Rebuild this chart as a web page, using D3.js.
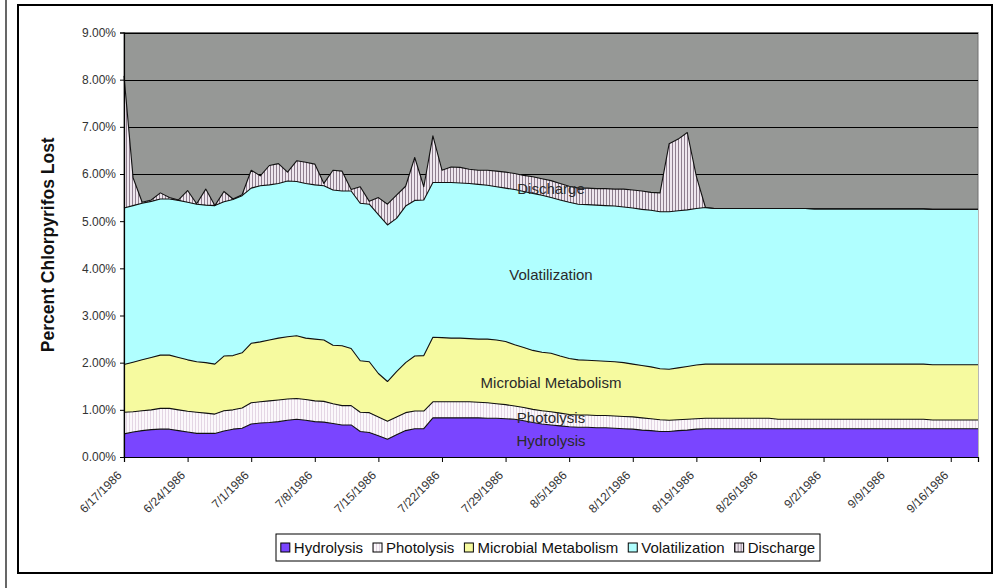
<!DOCTYPE html>
<html>
<head>
<meta charset="utf-8">
<script src="https://cdnjs.cloudflare.com/ajax/libs/d3/7.8.5/d3.min.js"></script>
<style>
body { margin:0; background:#fff; }
svg { display:block; font-family: Arial, "Liberation Sans", sans-serif; }
</style>
</head>
<body>
<svg id="chart" width="1003" height="588"></svg>
<script>
// first day of the daily series, and the weekly tick labels
var startDay = "6/17/1986";
var dayCount = 95;
var tickLabels = ["6/17/1986","6/24/1986","7/1/1986","7/8/1986","7/15/1986","7/22/1986","7/29/1986",
    "8/5/1986","8/12/1986","8/19/1986","8/26/1986","9/2/1986","9/9/1986","9/16/1986"];
var yTicks = [0,1,2,3,4,5,6,7,8,9];

var seriesNames = ["Hydrolysis","Photolysis","Microbial Metabolism","Volatilization","Discharge"];

// percent lost per day, one value per day from 6/17 on
var hydrolysis = [
 .49,.53,.56,.58,.59,.59,.56,.53,.50,.50,
 .50,.55,.59,.61,.70,.72,.73,.75,.78,.80,
 .78,.75,.74,.71,.68,.68,.54,.52,.45,.375,
 .47,.56,.60,.60,.83,.83,.83,.83,.83,.83,
 .82,.82,.81,.80,.77,.73,.70,.68,.66,.64,
 .63,.63,.62,.62,.61,.60,.59,.57,.56,.54,
 .54,.56,.57,.59,.60,.60,.60,.60,.60,.60,
 .60,.60,.60,.60,.60,.60,.60,.60,.60,.60,
 .60,.60,.60,.60,.60,.60,.60,.60,.60,.60,
 .60,.60,.60,.60,.60];
var photolysis = [
 .46,.43,.42,.42,.44,.44,.44,.44,.45,.43,
 .41,.43,.41,.43,.45,.45,.46,.46,.45,.44,
 .44,.44,.44,.42,.41,.41,.41,.42,.40,.385,
 .38,.38,.375,.375,.34,.34,.34,.34,.34,.33,
 .33,.31,.30,.28,.28,.28,.28,.28,.27,.26,
 .26,.26,.26,.26,.26,.26,.26,.26,.25,.25,
 .24,.23,.23,.22,.22,.22,.22,.22,.22,.22,
 .22,.22,.20,.20,.20,.20,.20,.20,.20,.20,
 .20,.20,.20,.20,.20,.20,.20,.20,.20,.185,
 .185,.185,.185,.185,.185];
var microbial = [
 1.01,1.05,1.08,1.11,1.13,1.13,1.11,1.09,1.07,1.07,
 1.06,1.16,1.15,1.17,1.26,1.27,1.29,1.31,1.32,1.33,
 1.30,1.31,1.30,1.24,1.27,1.21,1.09,1.08,.92,.84,
 .96,1.06,1.165,1.175,1.37,1.36,1.35,1.35,1.34,1.34,
 1.35,1.35,1.34,1.30,1.27,1.25,1.24,1.24,1.21,1.19,
 1.17,1.16,1.16,1.15,1.15,1.14,1.12,1.11,1.10,1.08,
 1.08,1.10,1.12,1.14,1.15,1.15,1.15,1.15,1.15,1.15,
 1.15,1.15,1.17,1.17,1.17,1.17,1.17,1.17,1.17,1.17,
 1.17,1.17,1.17,1.17,1.17,1.17,1.17,1.17,1.17,1.17,
 1.17,1.17,1.17,1.17,1.17];
var volatilization = [
 3.32,3.32,3.32,3.31,3.31,3.31,3.33,3.34,3.34,3.34,
 3.36,3.27,3.31,3.33,3.29,3.31,3.29,3.28,3.30,3.27,
 3.28,3.27,3.27,3.29,3.28,3.34,3.34,3.34,3.37,3.32,
 3.25,3.32,3.30,3.30,3.28,3.29,3.30,3.29,3.29,3.28,
 3.26,3.25,3.25,3.29,3.31,3.33,3.33,3.30,3.31,3.31,
 3.30,3.30,3.30,3.30,3.30,3.30,3.31,3.31,3.32,3.33,
 3.34,3.33,3.32,3.32,3.32,3.30,3.30,3.30,3.30,3.30,
 3.30,3.30,3.30,3.30,3.30,3.30,3.29,3.29,3.29,3.29,
 3.29,3.29,3.29,3.29,3.29,3.29,3.29,3.29,3.29,3.295,
 3.295,3.295,3.295,3.295,3.295];
var discharge = [
 2.80,.59,.02,.03,.13,.03,.01,.25,.01,.34,
 0,.22,.01,.02,.38,.21,.41,.42,.19,.44,
 .45,.44,.05,.42,.42,.03,.35,.06,.36,.44,
 .49,.42,.91,.28,.99,.26,.33,.33,.30,.30,
 .32,.33,.34,.34,.34,.35,.35,.36,.35,.34,
 .34,.35,.35,.36,.36,.38,.38,.39,.38,.40,
 1.44,1.52,1.64,.68,0,0,0,0,0,0,
 0,0,0,0,0,0,0,0,0,0,
 0,0,0,0,0,0,0,0,0,0,
 0,0,0,0,0];

// text written inside the chart
var areaLabels = ["Discharge","Volatilization","Microbial Metabolism","Photolysis","Hydrolysis"];
var areaLabelValues = [5.68, 3.86, 1.57, 0.83, 0.34];
var areaLabelDay = "8/3/1986";

var svgW = 1003, svgH = 588;
var plotL = 124, plotR = 978, plotT = 32.5, plotB = 457;

var parseDate = d3.timeParse("%m/%d/%Y");
var start = parseDate(startDay);

var svg = d3.select("#chart");

var defs = svg.append("defs");
var disPat = defs.append("pattern").attr("id","disPat")
    .attr("patternUnits","userSpaceOnUse").attr("width",3).attr("height",10);
disPat.append("rect").attr("width",3).attr("height",10).attr("fill","#eee6ee");
disPat.append("rect").attr("x",0).attr("width",1).attr("height",10).attr("fill","#8e7e8e");
var phoPat = defs.append("pattern").attr("id","phoPat")
    .attr("patternUnits","userSpaceOnUse").attr("width",3).attr("height",10);
phoPat.append("rect").attr("width",3).attr("height",10).attr("fill","#fbf8fb");
phoPat.append("rect").attr("x",0).attr("width",1).attr("height",10).attr("fill","#e4d6e4");

var fills = ["#7a45ff","url(#phoPat)","#f6fa9f","#b0ffff","url(#disPat)"];

// frame lines
svg.append("line").attr("x1",6).attr("x2",6).attr("y1",0).attr("y2",svgH)
    .attr("stroke","#000").attr("stroke-width",1.2);
svg.append("rect").attr("x",18).attr("y",5).attr("width",974).attr("height",568)
    .attr("fill","#fff").attr("stroke","#000").attr("stroke-width",2);

var rows = d3.range(dayCount).map(function (i) {
    return {
        date: d3.timeDay.offset(start, i),
        "Hydrolysis": hydrolysis[i],
        "Photolysis": photolysis[i],
        "Microbial Metabolism": microbial[i],
        "Volatilization": volatilization[i],
        "Discharge": discharge[i]
    };
});

var x = d3.scaleTime()
    .domain([start, rows[rows.length-1].date])
    .range([plotL, plotR]);
var y = d3.scaleLinear().domain([0, 9]).range([plotB, plotT]);

// plot background
svg.append("rect").attr("x",plotL).attr("y",plotT)
    .attr("width",plotR-plotL).attr("height",plotB-plotT)
    .attr("fill","#969896").attr("stroke","#707070").attr("stroke-width",1);

svg.append("g").selectAll("line")
    .data(yTicks.slice(1))
    .enter().append("line")
    .attr("x1",plotL).attr("x2",plotR)
    .attr("y1",function (d) { return Math.round(y(d))+0.5; })
    .attr("y2",function (d) { return Math.round(y(d))+0.5; })
    .attr("stroke","#000").attr("stroke-width",1);

var stack = d3.stack().keys(seriesNames);
var layers = stack(rows);

var area = d3.area()
    .x(function (d) { return x(d.data.date); })
    .y0(function (d) { return y(d[0]); })
    .y1(function (d) { return y(d[1]); });
var topLine = d3.line()
    .x(function (d) { return x(d.data.date); })
    .y(function (d) { return y(d[1]); });

svg.append("g").selectAll("path")
    .data(layers)
    .enter().append("path")
    .attr("d", area)
    .attr("fill", function (d, i) { return fills[i]; });

svg.append("g").selectAll("path")
    .data(layers)
    .enter().append("path")
    .attr("d", topLine)
    .attr("fill","none")
    .attr("stroke","#111")
    .attr("stroke-width",1.1)
    .attr("stroke-linejoin","round");

// labels inside the areas
svg.append("g").selectAll("text")
    .data(areaLabels)
    .enter().append("text")
    .attr("x", x(parseDate(areaLabelDay)))
    .attr("y", function (d, i) { return y(areaLabelValues[i]); })
    .attr("dy","0.35em")
    .attr("text-anchor","middle")
    .style("font-size","15px")
    .style("fill","#2a2a2a")
    .text(function (d) { return d; });

// axes
var yAxis = d3.axisLeft(y)
    .tickValues(yTicks)
    .tickSize(4)
    .tickFormat(function (d) { return d3.format(".2f")(d) + "%"; });
var yG = svg.append("g").attr("transform","translate(" + plotL + ",0)").call(yAxis);
yG.select(".domain").attr("stroke","#000").attr("stroke-width",1.2);
yG.selectAll(".tick line").attr("stroke","#000");
yG.selectAll("text").attr("x",-8).style("font-size","12px").style("fill","#333")
    .style("font-family","Arial, 'Liberation Sans', sans-serif");

var tickDates = tickLabels.map(parseDate);
var xAxis = d3.axisBottom(x)
    .tickValues(tickDates)
    .tickSize(5)
    .tickFormat(function (d, i) { return tickLabels[i]; });
var xG = svg.append("g").attr("transform","translate(0," + plotB + ")").call(xAxis);
xG.select(".domain").attr("stroke","#000").attr("stroke-width",1.2);
xG.selectAll(".tick line").attr("stroke","#000");
xG.selectAll("text")
    .attr("y",0).attr("dy",0)
    .attr("transform","translate(-2,19) rotate(-45)")
    .attr("text-anchor","end")
    .style("font-size","12px").style("fill","#333")
    .style("font-family","Arial, 'Liberation Sans', sans-serif");

// axis title
svg.append("text")
    .attr("transform","translate(54," + ((plotT+plotB)/2) + ") rotate(-90)")
    .attr("text-anchor","middle")
    .style("font-size","17.5px")
    .style("font-weight","bold")
    .style("fill","#111")
    .text("Percent Chlorpyrifos Lost");

// legend
var legX = 276, legY = 534, legW = 544, legH = 27;
var legend = svg.append("g");
legend.append("rect").attr("x",legX).attr("y",legY).attr("width",legW).attr("height",legH)
    .attr("fill","#fff").attr("stroke","#000").attr("stroke-width",1);

var items = legend.selectAll("g.item").data(seriesNames).enter().append("g").attr("class","item");
items.append("rect")
    .attr("width",9).attr("height",9)
    .attr("fill", function (d, i) { return fills[i]; })
    .attr("stroke","#000").attr("stroke-width",1);
items.append("text")
    .attr("x",13).attr("y",9.5)
    .style("font-size","15px").style("fill","#111")
    .text(function (d) { return d; });

var gap = 10;
var widths = [];
items.each(function () {
    widths.push(13 + d3.select(this).select("text").node().getComputedTextLength());
});
var total = d3.sum(widths) + gap * (widths.length - 1);
var cx = legX + (legW - total) / 2;
items.attr("transform", function (d, i) {
    var pos = cx;
    cx += widths[i] + gap;
    return "translate(" + pos + "," + (legY + 9) + ")";
});
</script>
</body>
</html>
